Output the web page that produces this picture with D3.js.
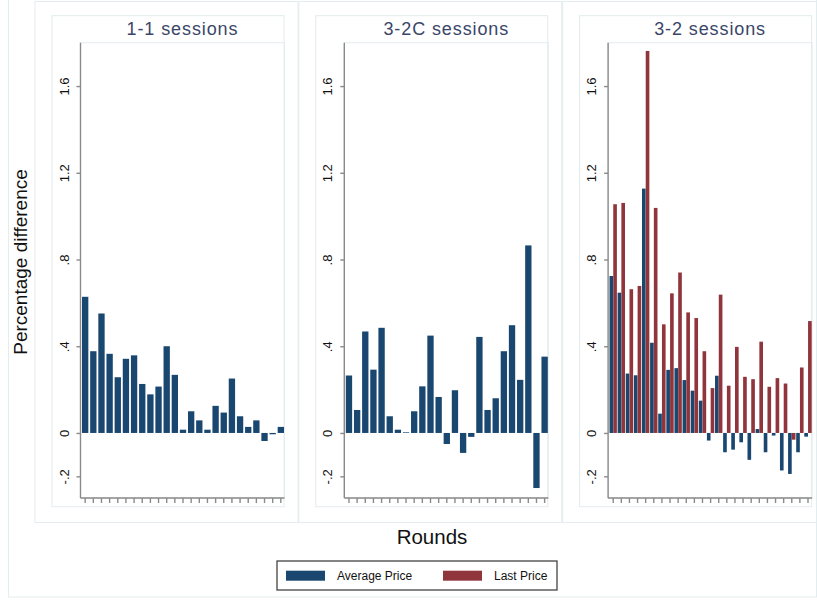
<!DOCTYPE html>
<html>
<head>
<meta charset="utf-8">
<script src="https://cdn.jsdelivr.net/npm/d3@7"></script>
<style>
  body { margin: 0; background: #fff; }
  svg { display: block; font-family: "Liberation Sans", Arial, sans-serif; }
  .frame { fill: none; stroke: #e3ecee; stroke-width: 1; }
  .axis path, .axis line { stroke: #8a8a8a; stroke-width: 1.4; }
  .axis text { fill: #111; font-size: 13px; }
</style>
</head>
<body>
<svg id="chart" width="817" height="600"></svg>
<script>
// Data
const rounds = d3.range(1, 26);
const panelTitles = ["1-1 sessions", "3-2C sessions", "3-2 sessions"];
const avg11 = [0.628, 0.377, 0.551, 0.365, 0.257, 0.342, 0.358, 0.226, 0.178, 0.214,
  0.400, 0.268, 0.015, 0.100, 0.058, 0.015, 0.125, 0.094, 0.251, 0.077,
  0.028, 0.058, -0.037, -0.006, 0.028];
const avg32c = [0.265, 0.106, 0.468, 0.292, 0.485, 0.077, 0.015, 0.003, 0.100, 0.215,
  0.449, 0.166, -0.051, 0.197, -0.092, -0.018, 0.443, 0.106, 0.160, 0.377,
  0.497, 0.245, 0.865, -0.254, 0.352];
const avg32 = [0.724, 0.647, 0.274, 0.266, 1.127, 0.416, 0.089, 0.291, 0.299, 0.244,
  0.195, 0.149, -0.035, 0.264, -0.089, -0.077, -0.043, -0.124, 0.018, -0.089,
  -0.012, -0.173, -0.189, -0.089, -0.017];
const last32 = [1.055, 1.061, 0.663, 0.678, 1.762, 1.038, 0.501, 0.644, 0.740, 0.556,
  0.530, 0.377, 0.207, 0.638, 0.218, 0.397, 0.259, 0.248, 0.421, 0.213,
  0.253, 0.228, -0.031, 0.302, 0.516];
const yTicks = [-0.2, 0, 0.4, 0.8, 1.2, 1.6];
const yTickLabels = ["-.2", "0", ".4", ".8", "1.2", "1.6"];
const seriesNames = ["Average Price", "Last Price"];
const seriesColors = ["#1a476f", "#90353b"];

const svg = d3.select("#chart");

// Overall graph region
svg.append("rect").attr("class", "frame")
  .attr("x", 8.5).attr("y", -1).attr("width", 808).attr("height", 598);

const panelStep = 263.8;
const y = d3.scaleLinear().domain([-0.3, 1.8]).range([498, 42.7]);
const tickFmt = d3.scaleOrdinal().domain(yTicks).range(yTickLabels);

const panels = [
  { title: panelTitles[0], series: [avg11] },
  { title: panelTitles[1], series: [avg32c] },
  { title: panelTitles[2], series: [avg32, last32] }
];

panels.forEach((p, i) => {
  const ax = 80.5 + i * panelStep;
  const g = svg.append("g");

  // Panel frames
  g.append("rect").attr("class", "frame")
    .attr("x", ax - 45.5).attr("y", 1.5).attr("width", 263).attr("height", 521);
  g.append("rect").attr("class", "frame")
    .attr("x", ax - 28.5).attr("y", 15.7).attr("width", 232).attr("height", 491);
  g.append("rect").attr("class", "frame")
    .attr("x", ax).attr("y", 42.7).attr("width", 204).attr("height", 455.3);

  // Subtitle
  g.append("text")
    .attr("x", ax + 102).attr("y", 35)
    .attr("text-anchor", "middle")
    .attr("font-size", 18)
    .attr("letter-spacing", 0.9)
    .attr("fill", "#3a4668")
    .text(p.title);

  const x = d3.scaleBand().domain(rounds).range([ax + 1, ax + 204])
    .paddingInner(p.series.length > 1 ? 0.09 : 0.2).paddingOuter(0.05);
  const sub = d3.scaleBand().domain(d3.range(p.series.length)).range([0, x.bandwidth()])
    .paddingInner(0.03);

  // Bars
  p.series.forEach((vals, s) => {
    g.append("g").selectAll("rect")
      .data(vals)
      .join("rect")
      .attr("x", (d, k) => x(rounds[k]) + sub(s))
      .attr("width", sub.bandwidth())
      .attr("y", d => y(Math.max(0, d)))
      .attr("height", d => Math.abs(y(d) - y(0)))
      .attr("fill", seriesColors[s]);
  });

  // Y axis
  const yAxis = g.append("g").attr("class", "axis")
    .attr("transform", `translate(${ax},0)`)
    .call(d3.axisLeft(y).tickValues(yTicks).tickFormat(d => tickFmt(d)).tickSize(4).tickSizeOuter(0));
  yAxis.select(".domain").attr("d", `M0,${y.range()[1]}V${y.range()[0]}`);
  yAxis.selectAll(".tick text")
    .attr("x", null).attr("dy", null)
    .attr("text-anchor", "middle")
    .attr("transform", "translate(-12,0) rotate(-90)");

  // X axis
  const xAxis = g.append("g").attr("class", "axis")
    .attr("transform", `translate(0,${y.range()[0]})`)
    .call(d3.axisBottom(x).tickFormat("").tickSize(5).tickSizeOuter(0));
  xAxis.select(".domain").attr("d", `M${ax},0H${ax + 204}`);
});

// Axis titles
svg.append("text")
  .attr("transform", "translate(27,262) rotate(-90)")
  .attr("text-anchor", "middle")
  .attr("font-size", 19)
  .attr("fill", "#111")
  .text("Percentage difference");

svg.append("text")
  .attr("x", 432).attr("y", 544)
  .attr("text-anchor", "middle")
  .attr("font-size", 20.5)
  .attr("fill", "#111")
  .text("Rounds");

// Legend
const lg = svg.append("g");
lg.append("rect")
  .attr("x", 277).attr("y", 561).attr("width", 280).attr("height", 29)
  .attr("fill", "#fff").attr("stroke", "#444").attr("stroke-width", 1.3);
const legendX = [286, 443];
const legendTextX = [337, 494];
seriesNames.forEach((name, s) => {
  lg.append("rect")
    .attr("x", legendX[s]).attr("y", 570.7).attr("width", 39).attr("height", 10)
    .attr("fill", seriesColors[s]);
  lg.append("text")
    .attr("x", legendTextX[s]).attr("y", 580)
    .attr("font-size", 12).attr("fill", "#111")
    .text(name);
});
</script>
</body>
</html>
